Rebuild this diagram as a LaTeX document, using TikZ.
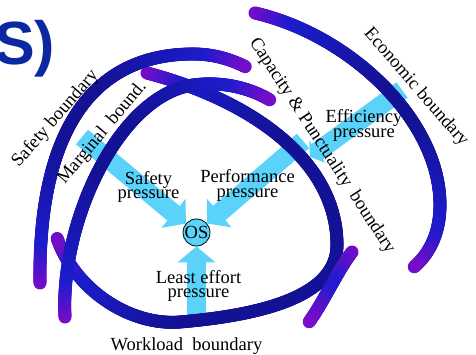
\documentclass[tikz,border=0pt]{standalone}
\usepackage{fontspec}
\setmainfont{Liberation Serif}
\newfontfamily\headfont{Liberation Sans}
\usetikzlibrary{arrows.meta,decorations.markings}
\definecolor{arcnavy}{RGB}{20,18,148}
\definecolor{arcblue}{RGB}{28,28,205}
\definecolor{arcpurple}{RGB}{120,12,200}
\definecolor{pressblue}{RGB}{90,210,250}
\definecolor{titleblue}{RGB}{12,40,160}

\begin{document}
\begin{tikzpicture}[x=1pt, y=-1pt, every node/.style={font={\fontsize{18.5}{14.5}\selectfont}, inner sep=0pt}]
    \tikzstyle{boundary}=[decoration={markings, mark=between positions 0 and 1 step 1pt with {
        \pgfmathsetmacro\arcd{min(\pgfkeysvalueof{/pgf/decoration/mark info/distance from start}, \pgfdecoratedpathlength-\pgfkeysvalueof{/pgf/decoration/mark info/distance from start})}
        \pgfmathsetmacro\arcpa{min(100,\arcd/0.42)}
        \pgfmathsetmacro\arcpb{min(100,max(0,(\arcd-42)/1.1))}
        \colorlet{arcmixa}{arcblue!\arcpa!arcpurple}
        \colorlet{arcmixb}{arcnavy!\arcpb!arcmixa}
        \fill[arcmixb] (0,0) circle (6.5pt);
    }}, postaction={decorate}]
    \tikzstyle{pressure}=[draw=pressblue, line width=19pt, -{Triangle[width=37pt,length=16pt]}]
    \tikzstyle{label}=[align=center]

    \useasboundingbox (0,0) rectangle (476,355);
    \clip (0,0) rectangle (476,355);

    % Operating point
    \node[circle, draw=black, line width=0.8pt, fill=pressblue, minimum size=27pt] (OS) at (196.5,232.5) {OS};

    % Pressures
    \coordinate (safety) at (82,137);
    \coordinate (perf) at (303,141);
    \coordinate (least) at (196.5,320);
    \coordinate (effA) at (402,90);
    \coordinate (effB) at (310,157);
    \draw[pressure] (safety) -- (OS);
    \draw[pressure] (perf) -- (OS);
    \draw[pressure] (least) -- (OS);
    \draw[pressure, -{Triangle[width=27pt,length=9pt]}] (effA) -- (effB);

    \node[label] (safetyP) at (148.5,187) {Safety\\pressure};
    \node[label] (perfP) at (247.5,185.6) {Performance\\pressure};
    \node[label] (effP) at (364,125.6) {Efficiency\\pressure};
    \node[label] (leastP) at (198.5,286) {Least effort\\pressure};

    % Boundaries
    \path[boundary] (147,73) .. controls (250,100) and (337,160) .. (337,245)
        .. controls (337,300) and (250,316) .. (180,322)
        .. controls (130,326) and (75,290) .. (57,238);
    \path[boundary] (65,317) .. controls (60,220) and (120,95) .. (193,85)
        .. controls (222,81) and (250,88) .. (270,100);
    \path[boundary] (40,283) .. controls (38,120) and (100,54) .. (193,54)
        .. controls (215,54) and (232,60) .. (246,67);
    \path[boundary] (255,13) .. controls (350,35) and (440,120) .. (440,205)
        .. controls (440,235) and (428,255) .. (414,267);
    \path[boundary] (352,252) .. controls (338,270) and (323,303) .. (309,322);

    % Boundary names
    \node[rotate=49] (safetyB) at (55.4,118.9) {Safety boundary};
    \node[rotate=50] (marginB) at (102.4,132.9) {Marginal~~bound.};
    \node[rotate=-57] (capB) at (322,146) {Capacity \& Punctuality~~boundary};
    \node[rotate=-49] (econB) at (416,87.5) {Economic boundary};
    \node[anchor=base] (workB) at (186.5,350) {Workload~~boundary};

    \node[anchor=base west, font={\headfont\bfseries\fontsize{61}{61}\selectfont}, text=titleblue] (title) at (-6,65) {S)};
\end{tikzpicture}
\end{document}
